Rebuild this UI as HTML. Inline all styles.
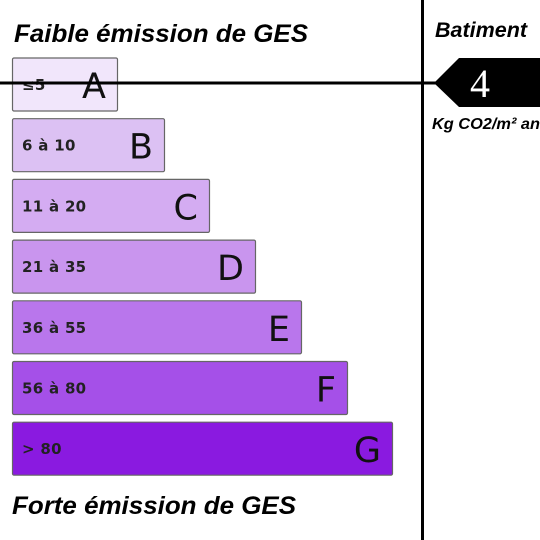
<!DOCTYPE html>
<html><head><meta charset="utf-8"><style>
html,body{margin:0;padding:0;background:#fff;}
svg{display:block;}
</style></head><body>
<svg id="chart" width="540" height="540" viewBox="0 0 540 540">
<text x="14" y="42" style="font-family:'Liberation Sans',sans-serif;font-size:25px;font-weight:bold;font-style:italic" textLength="294" lengthAdjust="spacingAndGlyphs">Faible émission de GES</text>
<text x="12" y="514" style="font-family:'Liberation Sans',sans-serif;font-size:25px;font-weight:bold;font-style:italic" textLength="284" lengthAdjust="spacingAndGlyphs">Forte émission de GES</text>
<rect x="421" y="0" width="3" height="540" fill="#000"/>
<text x="435" y="37" style="font-family:'Liberation Sans',sans-serif;font-size:21px;font-weight:bold;font-style:italic" textLength="92" lengthAdjust="spacingAndGlyphs">Batiment</text>
<g id="bars"></g>
<g id="marker"></g>
</svg>
<script>
const labels = ["≤5","6 à 10","11 à 20","21 à 35","36 à 55","56 à 80","> 80"];
const letters = ["A","B","C","D","E","F","G"];
const widths = [105,152,197,243,289,335,380];
const colors = ["#f1e6fb","#dcc1f3","#d4acf2","#c995ee","#b976ec","#a550e8","#8a1ae0"];
const value = 4;
const valueClass = 0;

const ns="http://www.w3.org/2000/svg";
const g=document.getElementById('bars');
function yOf(i){return 58+i*60.7;}
const barH=53;
letters.forEach((L,i)=>{
  const y=yOf(i);
  const r=document.createElementNS(ns,'rect');
  r.setAttribute('x',12.5);r.setAttribute('y',y);r.setAttribute('width',widths[i]);r.setAttribute('height',barH);
  r.setAttribute('fill',colors[i]);r.setAttribute('stroke','#666');r.setAttribute('stroke-width','1.2');r.setAttribute('rx','1.5');
  
  
  g.appendChild(r);
  const t=document.createElementNS(ns,'text');
  t.setAttribute('x',22);t.setAttribute('y',y+32);
  t.setAttribute('style',"font-family:'DejaVu Sans',sans-serif;font-size:15px;font-weight:bold;fill:#222;letter-spacing:0.3px");
  t.textContent=labels[i];
  
  
  g.appendChild(t);
  const l=document.createElementNS(ns,'text');
  l.setAttribute('x',12+widths[i]-11);l.setAttribute('y',y+40);l.setAttribute('text-anchor','end');
  l.setAttribute('style',"font-family:'DejaVu Sans',sans-serif;font-size:35px;fill:#111");
  l.textContent=L;
  
  
  g.appendChild(l);
});
const m=document.getElementById('marker');
const my=yOf(valueClass)+25;
const line=document.createElementNS(ns,'rect');
line.setAttribute('x',0);line.setAttribute('y',my-1.5);line.setAttribute('width',436);line.setAttribute('height',3);line.setAttribute('fill','#000');


m.appendChild(line);
const p=document.createElementNS(ns,'polygon');
p.setAttribute('points',`434,${my} 459,${my-25} 540,${my-25} 540,${my+24} 459,${my+24}`);
p.setAttribute('fill','#000');


m.appendChild(p);
const vt=document.createElementNS(ns,'text');
vt.setAttribute('x',480);vt.setAttribute('y',my+14);vt.setAttribute('text-anchor','middle');
vt.setAttribute('style',"font-family:'Liberation Serif',serif;font-size:40px;fill:#fff");
vt.textContent=value;


m.appendChild(vt);
const ut=document.createElementNS(ns,'text');
ut.setAttribute('x',432);ut.setAttribute('y',my+46);
ut.setAttribute('style',"font-family:'Liberation Sans',sans-serif;font-size:16px;font-weight:bold;font-style:italic");
ut.setAttribute('textLength','108');
ut.setAttribute('lengthAdjust','spacingAndGlyphs');
ut.textContent='Kg CO2/m² an';


m.appendChild(ut);
</script>
</body></html>
